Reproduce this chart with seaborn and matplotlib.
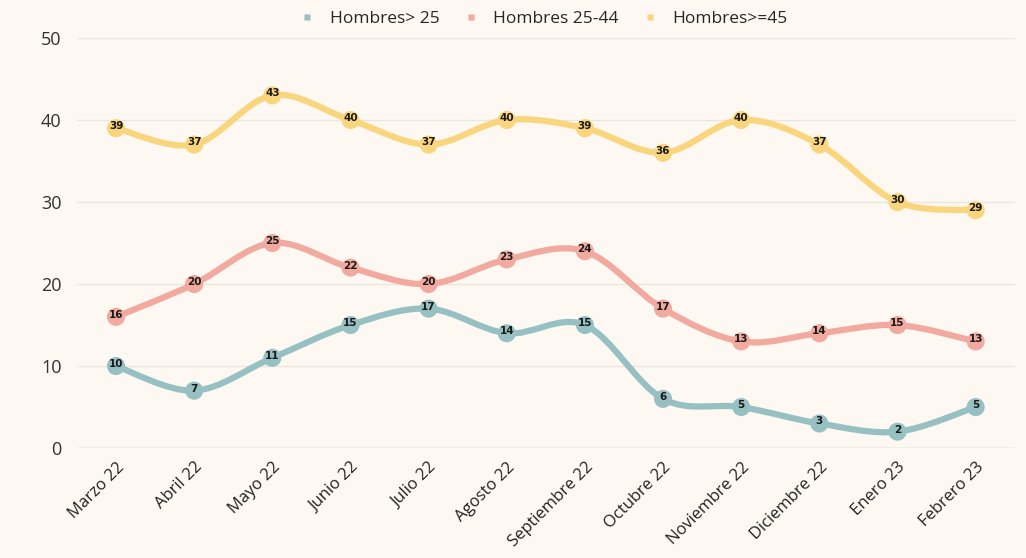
import matplotlib
matplotlib.use("Agg")
import matplotlib.pyplot as plt
import seaborn as sns
import numpy as np
import pandas as pd
from matplotlib.path import Path
from matplotlib.patches import PathPatch
from matplotlib.lines import Line2D

# --- DATOS ---
meses = ["Marzo 22", "Abril 22", "Mayo 22", "Junio 22", "Julio 22", "Agosto 22",
         "Septiembre 22", "Octubre 22", "Noviembre 22", "Diciembre 22", "Enero 23", "Febrero 23"]
hombres_menor_25 = [10, 7, 11, 15, 17, 14, 15, 6, 5, 3, 2, 5]
hombres_25_44 = [16, 20, 25, 22, 20, 23, 24, 17, 13, 14, 15, 13]
hombres_45_mas = [39, 37, 43, 40, 37, 40, 39, 36, 40, 37, 30, 29]

series = {
    "Hombres> 25": hombres_menor_25,
    "Hombres 25-44": hombres_25_44,
    "Hombres>=45": hombres_45_mas,
}
colores = {"Hombres> 25": "#97C0C3", "Hombres 25-44": "#F1A9A0", "Hombres>=45": "#F9D67D"}

fondo = "#FDF8F1"
sns.set_theme(style="white")
plt.rcParams['font.family'] = ['Open Sans', 'DejaVu Sans']

df = pd.DataFrame([
    {"mes": i, "serie": nombre, "valor": v}
    for nombre, vals in series.items() for i, v in enumerate(vals)
])

fig = plt.figure(figsize=(10.26, 5.58), dpi=100, facecolor=fondo)
ax = fig.add_axes([0.075, 0.197, 0.914, 0.735])
ax.set_facecolor(fondo)


def curva_suave(xs, ys):
    # Catmull-Rom convertido a curvas Bezier cubicas
    p = np.column_stack([xs, ys]).astype(float)
    n = len(p)
    verts = [p[0]]
    codes = [Path.MOVETO]
    for i in range(n - 1):
        p0 = p[i - 1] if i > 0 else p[i]
        p1, p2 = p[i], p[i + 1]
        p3 = p[i + 2] if i + 2 < n else p[i + 1]
        c1 = p1 + (p2 - p0) / 6.0
        c2 = p2 - (p3 - p1) / 6.0
        verts += [c1, c2, p2]
        codes += [Path.CURVE4] * 3
    return Path(verts, codes)


for nombre, vals in series.items():
    patch = PathPatch(curva_suave(range(len(vals)), vals), facecolor="none",
                      edgecolor=colores[nombre], lw=4.5, capstyle="round", zorder=2)
    ax.add_patch(patch)

sns.scatterplot(data=df, x="mes", y="valor", hue="serie", palette=colores, s=170,
                edgecolor="none", legend=False, ax=ax, zorder=3, clip_on=False)

for nombre, vals in series.items():
    for i, v in enumerate(vals):
        ax.annotate(str(v), (i, v), xytext=(0, 1.5), textcoords="offset points",
                    ha="center", va="center", fontsize=7.5, fontweight="bold",
                    color="#1a1a1a", zorder=4, family="DejaVu Sans")

ax.set_xlim(-0.5, 11.5)
ax.set_ylim(0, 50)
ax.set_yticks([0, 10, 20, 30, 40, 50])
ax.set_xticks(range(len(meses)))
ax.set_xticklabels(meses, rotation=45, ha="right", rotation_mode="anchor",
                   fontsize=12, color="#222222")
ax.tick_params(axis="y", labelsize=13, colors="#333333", pad=11, length=0)
ax.tick_params(axis="x", length=0, pad=8)
ax.yaxis.grid(True, color="#ECE6DD", lw=1)
ax.set_axisbelow(True)
for s in ax.spines.values():
    s.set_visible(False)
ax.axhline(0, color="#D6D2CC", lw=1, zorder=1)
ax.set_xlabel("")
ax.set_ylabel("")

handles = [Line2D([0], [0], marker="s", linestyle="", markersize=5,
                  markerfacecolor=colores[n], markeredgecolor="none", label=n)
           for n in series]
fig.legend(handles=handles, loc="upper center", bbox_to_anchor=(0.525, 1.008), ncol=3,
           frameon=False, fontsize=12.5, handletextpad=0.3, columnspacing=0.8)

plt.savefig("out.png", dpi=100, facecolor=fondo)
